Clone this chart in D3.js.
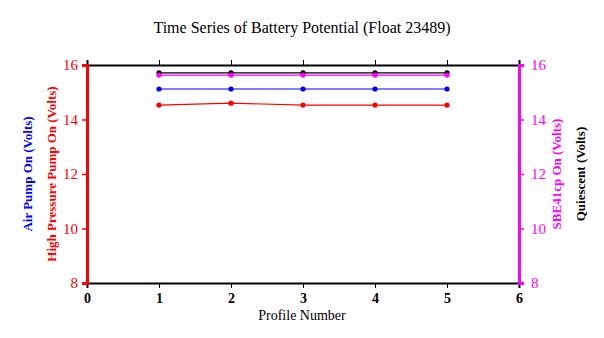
<!DOCTYPE html>
<html>
<head>
<meta charset="utf-8">
<script src="https://cdn.jsdelivr.net/npm/d3@7"></script>
<style>
  body { margin: 0; background: #fff; }
  svg { display: block; font-family: "Liberation Serif", "Times New Roman", serif; }
</style>
</head>
<body>
<svg id="chart" width="604" height="338"></svg>
<script>
// Battery potential per profile, Float 23489
const profiles = [1, 2, 3, 4, 5];
const quiescent = [15.71, 15.71, 15.71, 15.71, 15.71];
const sbe41cp = [15.63, 15.63, 15.63, 15.63, 15.63];
const airPump = [15.12, 15.12, 15.12, 15.12, 15.12];
const hpPump = [14.53, 14.6, 14.53, 14.53, 14.53];
const xTicks = [0, 1, 2, 3, 4, 5, 6];
const yTicks = [8, 10, 12, 14, 16];

const series = [
  { name: "Quiescent", values: quiescent, color: "#000000" },
  { name: "SBE41cp", values: sbe41cp, color: "#ff00ff" },
  { name: "Air Pump", values: airPump, color: "#0000ff" },
  { name: "High Pressure Pump", values: hpPump, color: "#ff0000" }
];

const svg = d3.select("#chart");
const plotLeft = 87, plotRight = 519, plotTop = 65, plotBottom = 283;

const x = d3.scaleLinear().domain([0, 6]).range([plotLeft, plotRight]);
const y = d3.scaleLinear().domain([8, 16]).range([plotBottom, plotTop]);

// Title
svg.append("text")
  .attr("x", 302).attr("y", 33)
  .attr("text-anchor", "middle")
  .attr("font-size", 16)
  .text("Time Series of Battery Potential (Float 23489)");

// Bottom axis
const xAxisB = svg.append("g").attr("transform", `translate(0,${plotBottom})`);
xAxisB.call(d3.axisBottom(x).tickValues(d3.range(0, 6.01, 0.2)).tickSize(3).tickFormat(""));
xAxisB.call(d3.axisBottom(x).tickValues(xTicks).tickSize(5).tickFormat(d3.format("d")));
xAxisB.selectAll("text").attr("font-size", 14).attr("font-family", "Liberation Serif").attr("font-weight", "bold").attr("dy", "0.85em");
xAxisB.selectAll(".domain").attr("stroke-width", 2);

// Top axis
const xAxisT = svg.append("g").attr("transform", `translate(0,${plotTop})`);
xAxisT.call(d3.axisTop(x).tickValues(d3.range(0, 6.01, 0.2)).tickSize(3).tickFormat(""));
xAxisT.call(d3.axisTop(x).tickValues(xTicks).tickSize(5).tickFormat(""));
xAxisT.selectAll(".domain").attr("stroke-width", 2);

// Left axis (red)
const yAxisL = svg.append("g").attr("transform", `translate(${plotLeft},0)`);
yAxisL.call(d3.axisLeft(y).tickValues(d3.range(8, 16.01, 1)).tickSize(3).tickFormat(""));
yAxisL.call(d3.axisLeft(y).tickValues(yTicks).tickSize(5).tickPadding(4).tickFormat(d3.format("d")));
yAxisL.selectAll("line").attr("stroke", "#ff0000").attr("stroke-width", 1.5);
yAxisL.selectAll(".domain").attr("stroke", "#ff0000").attr("stroke-width", 3);
yAxisL.selectAll("text").attr("fill", "#ff0000").attr("font-size", 15).attr("font-family", "Liberation Serif");

// Right axis (magenta)
const yAxisR = svg.append("g").attr("transform", `translate(${plotRight},0)`);
yAxisR.call(d3.axisRight(y).tickValues(d3.range(8, 16.01, 1)).tickSize(3).tickFormat(""));
yAxisR.call(d3.axisRight(y).tickValues(yTicks).tickSize(5).tickPadding(7).tickFormat(d3.format("d")));
yAxisR.selectAll("line").attr("stroke", "#ff00ff").attr("stroke-width", 1.5);
yAxisR.selectAll(".domain").attr("stroke", "#ff00ff").attr("stroke-width", 3);
yAxisR.selectAll("text").attr("fill", "#ff00ff").attr("font-size", 15).attr("font-family", "Liberation Serif");

// Axis titles
svg.append("text")
  .attr("x", 302).attr("y", 320)
  .attr("text-anchor", "middle").attr("font-size", 14)
  .text("Profile Number");

const midY = (plotTop + plotBottom) / 2;
function vLabel(xPos, text, color) {
  svg.append("text")
    .attr("transform", `translate(${xPos},${midY}) rotate(-90)`)
    .attr("text-anchor", "middle")
    .attr("font-size", 13).attr("font-weight", "bold")
    .attr("fill", color)
    .text(text);
}
vLabel(32, "Air Pump On (Volts)", "#0000ff");
vLabel(56, "High Pressure Pump On (Volts)", "#ff0000");
vLabel(561, "SBE41cp On (Volts)", "#ff00ff");
vLabel(585, "Quiescent (Volts)", "#000000");

// Series lines and markers
const line = d3.line().x((d, i) => x(profiles[i])).y(d => y(d));
series.forEach(s => {
  svg.append("path")
    .datum(s.values)
    .attr("fill", "none")
    .attr("stroke", s.color)
    .attr("stroke-width", 1.2)
    .attr("d", line);
  svg.selectAll(null)
    .data(s.values)
    .enter().append("circle")
    .attr("cx", (d, i) => x(profiles[i]))
    .attr("cy", d => y(d))
    .attr("r", 2.6)
    .attr("fill", s.color);
});
</script>
</body>
</html>
